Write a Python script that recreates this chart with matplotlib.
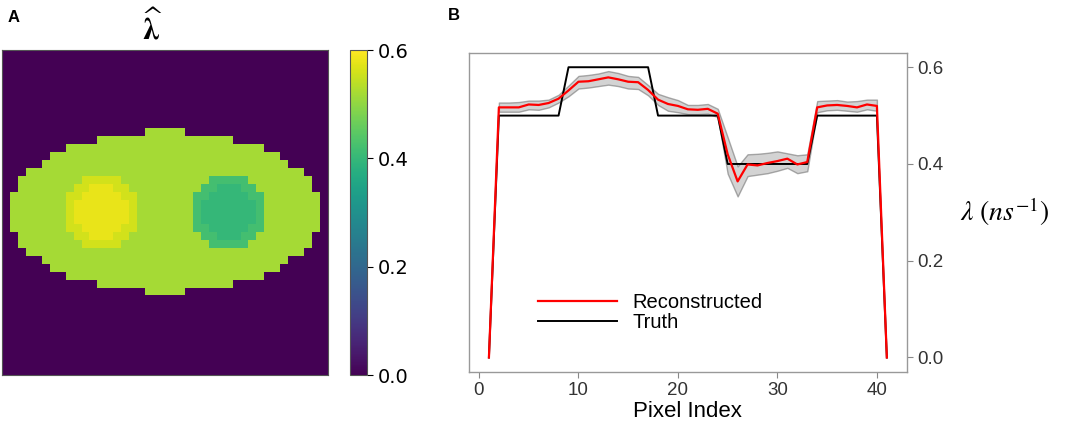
import numpy as np
import matplotlib
matplotlib.use("Agg")
import matplotlib.pyplot as plt

# profile along the central row (pixel index is 1-based)
pixel_index = list(range(1, 42))

recon = [0.000, 0.517, 0.517, 0.517, 0.523, 0.522, 0.526, 0.535, 0.552, 0.570,
         0.571, 0.575, 0.579, 0.575, 0.570, 0.569, 0.553, 0.533, 0.524, 0.520,
         0.513, 0.512, 0.514, 0.504, 0.420, 0.364, 0.399, 0.397, 0.402, 0.406,
         0.411, 0.399, 0.404, 0.517, 0.521, 0.522, 0.520, 0.517, 0.523, 0.520,
         0.000]

# uncertainty band, pixel index 2..40
band_lower = [0.508, 0.508, 0.508, 0.513, 0.512, 0.517, 0.527, 0.540, 0.556,
              0.558, 0.561, 0.564, 0.561, 0.556, 0.555, 0.542, 0.522, 0.510,
              0.507, 0.503, 0.503, 0.504, 0.497, 0.380, 0.333, 0.375, 0.378,
              0.381, 0.386, 0.392, 0.381, 0.385, 0.507, 0.511, 0.512, 0.510,
              0.508, 0.513, 0.510]
band_upper = [0.527, 0.527, 0.528, 0.531, 0.531, 0.533, 0.543, 0.562, 0.582,
              0.584, 0.587, 0.592, 0.588, 0.582, 0.580, 0.563, 0.545, 0.538,
              0.532, 0.522, 0.522, 0.524, 0.514, 0.455, 0.395, 0.420, 0.421,
              0.423, 0.426, 0.422, 0.418, 0.420, 0.530, 0.531, 0.532, 0.529,
              0.530, 0.533, 0.533]

truth = [0.0] + [0.5] * 7 + [0.6] * 9 + [0.5] * 7 + [0.4] * 9 + [0.5] * 7 + [0.0]

# phantom geometry of the 41x41 reconstructed image (panel A)
n_pix = 41
ellipse_rows = list(range(10, 31))
ellipse_first_col = [18, 12, 8, 6, 5, 3, 2, 2, 1, 1, 1, 1, 1, 2, 2, 3, 5, 6, 8, 12, 18]
circle_centers = [(20, 12), (20, 28)]
circle_radius = 4.5
core_radius = 3.5
ellipse_level = 0.52
circle_core_levels = [0.58, 0.40]
circle_ring_levels = [0.56, 0.42]

img = np.zeros((n_pix, n_pix))
for r, c0 in zip(ellipse_rows, ellipse_first_col):
    img[r, c0:n_pix - c0] = ellipse_level
rr, cc = np.mgrid[0:n_pix, 0:n_pix]
for (cy, cx), core, ring in zip(circle_centers, circle_core_levels, circle_ring_levels):
    d = np.hypot(rr - cy, cc - cx)
    img[(d <= circle_radius) & (d > core_radius)] = ring
    img[d <= core_radius] = core

fig = plt.figure(figsize=(10.65, 4.21), dpi=100)

# panel A
axA = fig.add_axes([0.0019, 0.109, 0.306, 0.772])
im = axA.imshow(img, cmap="viridis", vmin=0, vmax=0.6, aspect="auto",
                interpolation="nearest")
axA.set_xticks([])
axA.set_yticks([])
for s in axA.spines.values():
    s.set_color("#555555")
    s.set_linewidth(0.8)

cax = fig.add_axes([0.3286, 0.109, 0.016, 0.772])
cb = fig.colorbar(im, cax=cax, ticks=[0.0, 0.2, 0.4, 0.6])
cb.ax.tick_params(labelsize=14, length=4, width=0.8)
cb.ax.set_yticklabels(["0.0", "0.2", "0.4", "0.6"], family="DejaVu Sans")
cb.outline.set_linewidth(0.8)
cb.outline.set_edgecolor("#555555")

fig.text(152 / 1065, 1 - 27 / 421, r"$\widehat{\boldsymbol{\lambda}}$",
         fontsize=22, ha="center", va="center", math_fontfamily="stix")
fig.text(14 / 1065, 1 - 17 / 421, "A", fontsize=12, fontweight="bold",
         ha="center", va="center", family="Liberation Sans")

# panel B
axB = fig.add_axes([0.4404, 0.1164, 0.411, 0.7584])
x = np.array(pixel_index)
axB.plot(x, truth, color="black", linewidth=1.4, label="Truth")
axB.fill_between(x[1:-1], band_lower, band_upper, facecolor="#b0b0b0",
                 edgecolor="#6a6a6a", linewidth=1.0, alpha=0.55)
axB.plot(x, recon, color="red", linewidth=1.6, label="Reconstructed")
axB.set_xlim(-1, 43)
axB.set_xticks([0, 10, 20, 30, 40])
axB.set_yticks([0.0, 0.2, 0.4, 0.6])
axB.yaxis.tick_right()
axB.tick_params(labelsize=13.5, colors="#333333", length=4, width=0.8)
axB.tick_params(axis="both", color="#888888")
for lab in axB.get_xticklabels() + axB.get_yticklabels():
    lab.set_family("Liberation Sans")
for s in axB.spines.values():
    s.set_color("#999999")
    s.set_linewidth(1.0)
axB.set_xlabel("Pixel Index", fontsize=16, family="Liberation Sans", labelpad=1)

handles, labels = axB.get_legend_handles_labels()
axB.legend(handles[::-1], labels[::-1], loc="center left",
           bbox_to_anchor=(0.135, 0.187), frameon=False, handlelength=3.9,
           handletextpad=0.8, labelspacing=0.05, borderpad=0,
           prop={"family": "Liberation Sans", "size": 14.5})

fig.text(1005 / 1065, 1 - 212 / 421, r"$\lambda\ (ns^{-1})$", fontsize=20,
         ha="center", va="center", math_fontfamily="stix")
fig.text(454 / 1065, 1 - 15 / 421, "B", fontsize=12, fontweight="bold",
         ha="center", va="center", family="Liberation Sans")

fig.savefig("out.png", dpi=100)
